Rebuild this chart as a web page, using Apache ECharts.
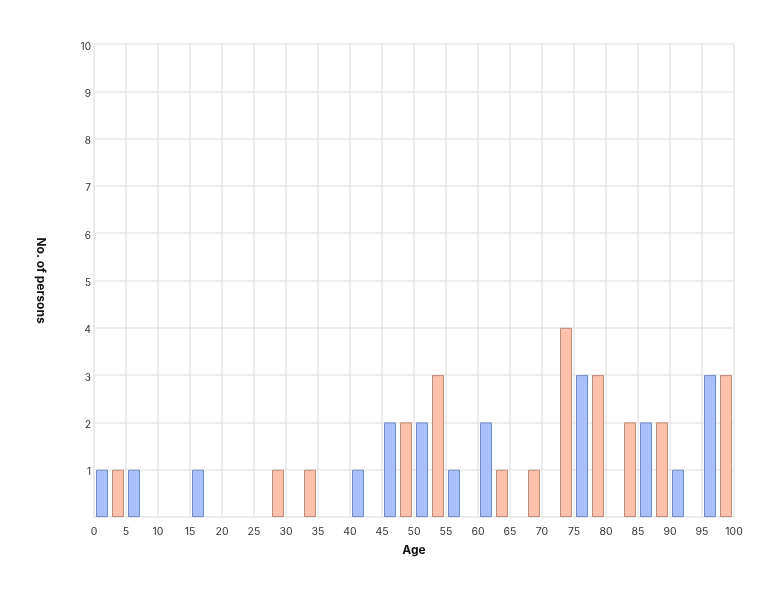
<!DOCTYPE html>
<html>
<head>
<meta charset="utf-8">
<script src="https://cdn.jsdelivr.net/npm/echarts@6/dist/echarts.min.js"></script>
<style>html,body{margin:0;padding:0;background:#fff}#c{width:774px;height:594px}</style>
</head>
<body>
<div id="c"></div>
<script>
// Age bins (start of 2.5-year bin) and counts
const binWidth = 2.5;
const blueBins = [0, 5, 15, 40, 45, 50, 55, 60, 75, 85, 90, 95];
const blueCounts = [1, 1, 1, 1, 2, 2, 1, 2, 3, 2, 1, 3];
const salmonBins = [2.5, 27.5, 32.5, 47.5, 52.5, 62.5, 67.5, 72.5, 77.5, 82.5, 87.5, 97.5];
const salmonCounts = [1, 1, 1, 2, 3, 1, 1, 4, 3, 2, 2, 3];
const xTicks = [0, 100, 5];
const yTicks = [0, 10, 1];

const chart = echarts.init(document.getElementById('c'));
const font = 'Inter, "Noto Sans", sans-serif';
const gridColor = '#e9e9e9';
chart.setOption({
  animation: false,
  grid: { left: 94, right: 40, top: 44, bottom: 77 },
  xAxis: {
    type: 'value', min: xTicks[0], max: xTicks[1], interval: xTicks[2],
    name: 'Age', nameLocation: 'middle', nameGap: 27,
    nameTextStyle: { fontFamily: font, fontWeight: 'bold', fontSize: 12, color: '#111' },
    axisLine: { show: true, lineStyle: { color: gridColor, width: 1.5 } },
    axisTick: { show: false },
    axisLabel: { fontFamily: font, fontSize: 10.5, color: '#333', margin: 9 },
    splitLine: { show: true, lineStyle: { color: gridColor, width: 1.5 } }
  },
  yAxis: {
    type: 'value', min: yTicks[0], max: yTicks[1], interval: yTicks[2],
    name: 'No. of persons', nameLocation: 'middle', nameGap: 47, nameRotate: -90,
    nameTextStyle: { fontFamily: font, fontWeight: 'bold', fontSize: 12, color: '#111' },
    axisLine: { show: true, lineStyle: { color: gridColor, width: 1.5 } },
    axisTick: { show: false },
    axisLabel: {
      fontFamily: font, fontSize: 10, color: '#333', margin: 3,
      verticalAlign: 'top', lineHeight: 5,
      formatter: v => v === 0 ? '' : String(v)
    },
    splitLine: { show: true, lineStyle: { color: gridColor, width: 1.5 } }
  },
  series: [
    {
      type: 'bar', name: 'Blue', barWidth: 12, barGap: '-100%',
      data: blueBins.map((b, i) => [b + binWidth / 2, blueCounts[i]]),
      itemStyle: { color: '#aac0fa', borderColor: '#7189c9', borderWidth: 1 }
    },
    {
      type: 'bar', name: 'Salmon', barWidth: 12, barGap: '-100%',
      data: salmonBins.map((b, i) => [b + binWidth / 2, salmonCounts[i]]),
      itemStyle: { color: '#ffc1aa', borderColor: '#bb8b7b', borderWidth: 1 }
    }
  ]
});
</script>
</body>
</html>
